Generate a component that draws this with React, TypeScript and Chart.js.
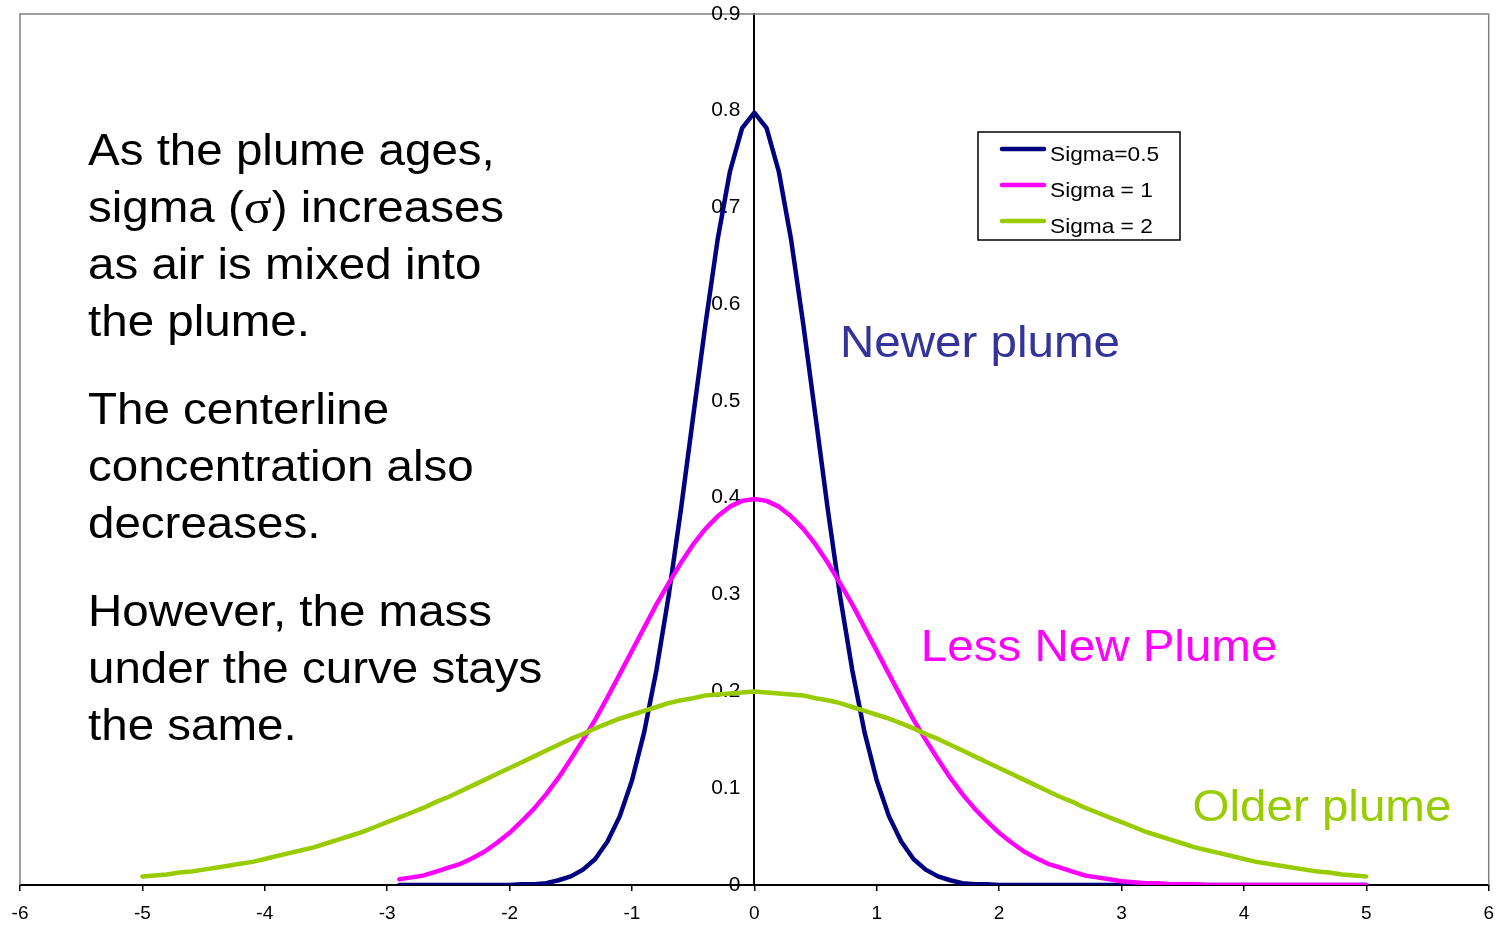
import { useEffect, useRef } from 'react';
import { Chart, registerables } from 'chart.js';

Chart.register(...registerables);

const FONT = "'Liberation Sans', Arial, Helvetica, sans-serif";
const SERIF = "'Liberation Serif', 'Times New Roman', serif";

// x positions shared by the three curves
const xValues = [
  -5.0, -4.9, -4.8, -4.7, -4.6, -4.5, -4.4, -4.3, -4.2, -4.1,
  -4.0, -3.9, -3.8, -3.7, -3.6, -3.5, -3.4, -3.3, -3.2, -3.1,
  -3.0, -2.9, -2.8, -2.7, -2.6, -2.5, -2.4, -2.3, -2.2, -2.1,
  -2.0, -1.9, -1.8, -1.7, -1.6, -1.5, -1.4, -1.3, -1.2, -1.1,
  -1.0, -0.9, -0.8, -0.7, -0.6, -0.5, -0.4, -0.3, -0.2, -0.1,
  0.0,
  0.1, 0.2, 0.3, 0.4, 0.5, 0.6, 0.7, 0.8, 0.9, 1.0,
  1.1, 1.2, 1.3, 1.4, 1.5, 1.6, 1.7, 1.8, 1.9, 2.0,
  2.1, 2.2, 2.3, 2.4, 2.5, 2.6, 2.7, 2.8, 2.9, 3.0,
  3.1, 3.2, 3.3, 3.4, 3.5, 3.6, 3.7, 3.8, 3.9, 4.0,
  4.1, 4.2, 4.3, 4.4, 4.5, 4.6, 4.7, 4.8, 4.9, 5.0,
];

const sigmaHalf = [
  null, null, null, null, null, null, null, null, null, null,
  null, null, null, null, null, null, null, null, null, null,
  null, 0, 0, 0, 0, 0, 0, 0, 0, 0,
  0, 0.001, 0.001, 0.002, 0.005, 0.009, 0.016, 0.027, 0.045, 0.071,
  0.108, 0.158, 0.222, 0.299, 0.388, 0.484, 0.579, 0.667, 0.737, 0.782,
  0.798,
  0.782, 0.737, 0.667, 0.579, 0.484, 0.388, 0.299, 0.222, 0.158, 0.108,
  0.071, 0.045, 0.027, 0.016, 0.009, 0.005, 0.002, 0.001, 0.001, 0,
  0, 0, 0, 0, 0, 0, 0, 0, 0, 0,
  0, 0, 0, 0, 0, 0, 0, 0, 0, 0,
  0, 0, 0, 0, 0, 0, 0, 0, 0, 0,
];

const sigmaOne = [
  null, null, null, null, null, null, null, null, null, null,
  null, null, null, null, null, null, null, null, null, null,
  null, 0.006, 0.008, 0.010, 0.014, 0.018, 0.022, 0.028, 0.035, 0.044,
  0.054, 0.066, 0.079, 0.094, 0.111, 0.130, 0.150, 0.171, 0.194, 0.218,
  0.242, 0.266, 0.290, 0.312, 0.333, 0.352, 0.368, 0.381, 0.391, 0.397,
  0.399,
  0.397, 0.391, 0.381, 0.368, 0.352, 0.333, 0.312, 0.290, 0.266, 0.242,
  0.218, 0.194, 0.171, 0.150, 0.130, 0.111, 0.094, 0.079, 0.066, 0.054,
  0.044, 0.035, 0.028, 0.022, 0.018, 0.014, 0.010, 0.008, 0.006, 0.004,
  0.003, 0.002, 0.002, 0.001, 0.001, 0.001, 0, 0, 0, 0,
  0, 0, 0, 0, 0, 0, 0, 0, 0, 0,
];

const sigmaTwo = [
  0.009, 0.010, 0.011, 0.013, 0.014, 0.016, 0.018, 0.020, 0.022, 0.024,
  0.027, 0.030, 0.033, 0.036, 0.039, 0.043, 0.047, 0.051, 0.055, 0.060,
  0.065, 0.070, 0.075, 0.080, 0.086, 0.091, 0.097, 0.103, 0.109, 0.115,
  0.121, 0.127, 0.133, 0.139, 0.145, 0.151, 0.156, 0.162, 0.167, 0.172,
  0.176, 0.180, 0.184, 0.188, 0.191, 0.193, 0.196, 0.197, 0.198, 0.199,
  0.200,
  0.199, 0.198, 0.197, 0.196, 0.193, 0.191, 0.188, 0.184, 0.180, 0.176,
  0.172, 0.167, 0.162, 0.156, 0.151, 0.145, 0.139, 0.133, 0.127, 0.121,
  0.115, 0.109, 0.103, 0.097, 0.091, 0.086, 0.080, 0.075, 0.070, 0.065,
  0.060, 0.055, 0.051, 0.047, 0.043, 0.039, 0.036, 0.033, 0.030, 0.027,
  0.024, 0.022, 0.020, 0.018, 0.016, 0.014, 0.013, 0.011, 0.010, 0.009,
];

const seriesLabels = ['Sigma=0.5', 'Sigma = 1', 'Sigma = 2'];
const seriesColors = ['#000080', '#FF00FF', '#99CC00'];

const yTickValues = [0, 0.1, 0.2, 0.3, 0.4, 0.5, 0.6, 0.7, 0.8, 0.9];
const yTickLabels = ['0', '0.1', '0.2', '0.3', '0.4', '0.5', '0.6', '0.7', '0.8', '0.9'];

const noteParagraphs = [
  ['As the plume ages,', 'sigma (σ) increases', 'as air is mixed into', 'the plume.'],
  ['The centerline', 'concentration also', 'decreases.'],
  ['However, the mass', 'under the curve stays', 'the same.'],
];

const curveNotes = [
  { text: 'Newer plume', x: 0.7, y: 0.558, color: '#333399' },
  { text: 'Less New Plume', x: 1.36, y: 0.244, color: '#FF00FF' },
  { text: 'Older plume', x: 3.58, y: 0.079, color: '#99CC00' },
];

const BIG = 44;
const STRETCH = 1.08;

function stretchedText(ctx: CanvasRenderingContext2D, text: string, x: number, y: number, sx: number) {
  ctx.save();
  ctx.translate(x, y);
  ctx.scale(sx, 1);
  ctx.fillText(text, 0, 0);
  ctx.restore();
  return ctx.measureText(text).width * sx;
}

const decorPlugin = {
  id: 'decor',
  beforeDraw(chart: any) {
    const { ctx, width, height } = chart;
    ctx.save();
    ctx.fillStyle = '#ffffff';
    ctx.fillRect(0, 0, width, height);
    ctx.restore();
  },
  beforeDatasetsDraw(chart: any) {
    const { ctx, chartArea, scales } = chart;
    const { left, right, top, bottom } = chartArea;
    ctx.save();
    ctx.strokeStyle = '#808080';
    ctx.lineWidth = 1.5;
    ctx.beginPath();
    ctx.moveTo(left, bottom);
    ctx.lineTo(left, top);
    ctx.lineTo(right, top);
    ctx.lineTo(right, bottom);
    ctx.stroke();

    const x0 = scales.x.getPixelForValue(0);
    ctx.fillStyle = '#000';
    ctx.font = `20px ${FONT}`;
    ctx.textAlign = 'right';
    ctx.textBaseline = 'middle';
    yTickValues.forEach((v, i) => {
      const py = scales.y.getPixelForValue(v);
      ctx.save();
      ctx.translate(x0 - 14, py);
      ctx.scale(1.05, 1);
      ctx.fillText(yTickLabels[i], 0, 0);
      ctx.restore();
    });
    ctx.restore();
  },
  afterDraw(chart: any) {
    const { ctx, chartArea, scales } = chart;
    const { left, top } = chartArea;
    ctx.save();
    ctx.textAlign = 'left';
    ctx.textBaseline = 'middle';

    // left explanatory notes
    ctx.fillStyle = '#000';
    const lineGap = 57;
    const paraGap = 88;
    let cy = top + 139;
    const tx = left + 68;
    noteParagraphs.forEach((para, pi) => {
      if (pi > 0) cy += paraGap - lineGap;
      para.forEach((line) => {
        const idx = line.indexOf('σ');
        if (idx >= 0) {
          let cx = tx;
          const parts = [line.slice(0, idx), 'σ', line.slice(idx + 1)];
          parts.forEach((p, k) => {
            ctx.font = k === 1 ? `${BIG + 4}px ${SERIF}` : `${BIG}px ${FONT}`;
            cx += stretchedText(ctx, p, cx, cy, STRETCH);
          });
        } else {
          ctx.font = `${BIG}px ${FONT}`;
          stretchedText(ctx, line, tx, cy, STRETCH);
        }
        cy += lineGap;
      });
    });

    // curve notes
    curveNotes.forEach((n) => {
      ctx.fillStyle = n.color;
      ctx.font = `${BIG}px ${FONT}`;
      stretchedText(ctx, n.text, scales.x.getPixelForValue(n.x), scales.y.getPixelForValue(n.y), STRETCH);
    });

    // legend
    const bx = left + 958;
    const by = top + 118;
    const bw = 202;
    const bh = 108;
    ctx.fillStyle = '#fff';
    ctx.fillRect(bx, by, bw, bh);
    ctx.strokeStyle = '#000';
    ctx.lineWidth = 1.5;
    ctx.strokeRect(bx, by, bw, bh);
    ctx.font = `21px ${FONT}`;
    seriesLabels.forEach((lab, i) => {
      const ly = by + 17 + i * 36;
      ctx.strokeStyle = seriesColors[i];
      ctx.lineWidth = 4.5;
      ctx.lineCap = 'round';
      ctx.beginPath();
      ctx.moveTo(bx + 24, ly);
      ctx.lineTo(bx + 66, ly);
      ctx.stroke();
      ctx.fillStyle = '#000';
      stretchedText(ctx, lab, bx + 72, ly + 6, 1.08);
    });
    ctx.restore();
  },
};

const CANVAS_W = 1497;
const CANVAS_H = 937;

export default function App() {
  const canvasRef = useRef<HTMLCanvasElement | null>(null);

  useEffect(() => {
    if (!canvasRef.current) return;
    const makeData = (ys: (number | null)[]) => xValues.map((x, i) => ({ x, y: ys[i] }));
    const all = [sigmaHalf, sigmaOne, sigmaTwo];
    const chart = new Chart(canvasRef.current, {
      type: 'line',
      data: {
        datasets: all.map((ys, i) => ({
          label: seriesLabels[i],
          data: makeData(ys),
          borderColor: seriesColors[i],
          backgroundColor: seriesColors[i],
          borderWidth: 4.5,
          pointRadius: 0,
          tension: 0,
          fill: false,
          spanGaps: false,
          borderCapStyle: 'round',
          borderJoinStyle: 'round',
          order: 2 - i,
        })) as any,
      },
      options: {
        animation: false,
        responsive: false,
        maintainAspectRatio: false,
        layout: { padding: { left: 20, right: 8, top: 14, bottom: 0 } },
        plugins: {
          legend: { display: false },
          tooltip: { enabled: false },
        },
        scales: {
          x: {
            type: 'linear',
            min: -6,
            max: 6,
            ticks: {
              stepSize: 1,
              color: '#000',
              font: { family: FONT, size: 19, lineHeight: 2.1 },
              padding: 3,
              maxRotation: 0,
            },
            grid: {
              display: true,
              drawOnChartArea: false,
              drawTicks: true,
              tickLength: 6,
              color: '#000',
              lineWidth: 1.5,
            },
            border: { display: true, color: '#000', width: 2 },
          },
          y: {
            type: 'linear',
            position: { x: 0 } as any,
            min: 0,
            max: 0.9,
            ticks: { display: false, stepSize: 0.1 },
            grid: { display: false },
            border: { display: true, color: '#000', width: 2 },
          },
        },
      },
      plugins: [decorPlugin],
    });
    return () => chart.destroy();
  }, []);

  return (
    <div style={{ position: 'absolute', left: 0, top: 0, width: CANVAS_W, height: 926, overflow: 'hidden', background: '#fff' }}>
      <canvas ref={canvasRef} width={CANVAS_W} height={CANVAS_H} style={{ display: 'block' }} />
    </div>
  );
}
